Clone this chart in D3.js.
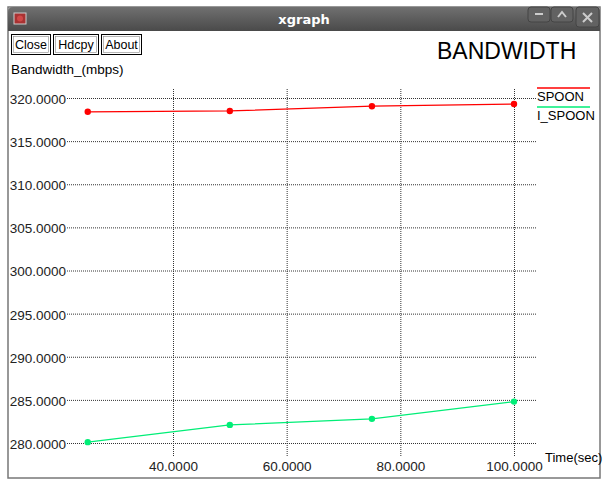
<!DOCTYPE html>
<html>
<head>
<meta charset="utf-8">
<script src="https://cdn.jsdelivr.net/npm/d3@7"></script>
<style>
  body { margin: 0; background: #ffffff; }
  svg { display: block; font-family: "Liberation Sans", Arial, sans-serif; }
</style>
</head>
<body>
<svg id="xg" width="603" height="479"></svg>
<script>
// data
const times = [25, 50, 75, 100];
const spoon = [318.4, 318.5, 319.05, 319.3];
const ispoon = [280.1, 282.1, 282.8, 284.8];
const xTicks = [40, 60, 80, 100];
const yTicks = [280, 285, 290, 295, 300, 305, 310, 315, 320];
const seriesNames = ["SPOON", "I_SPOON"];
const seriesColors = ["#ff0000", "#00ee77"];
const buttons = ["Close", "Hdcpy", "About"];

const svg = d3.select("#xg");

// window frame
svg.append("rect").attr("x", 8).attr("y", 7).attr("width", 592).attr("height", 471)
  .attr("fill", "#fff").attr("stroke", "#777").attr("stroke-width", 1.5);

const grad = svg.append("defs").append("linearGradient").attr("id", "tb")
  .attr("x1", 0).attr("y1", 0).attr("x2", 0).attr("y2", 1);
grad.append("stop").attr("offset", "0%").attr("stop-color", "#707070");
grad.append("stop").attr("offset", "100%").attr("stop-color", "#4a4a4a");

svg.append("path")
  .attr("d", "M8,31 L8,12 Q8,7 13,7 L596,7 Q600,7 600,12 L600,31 Z")
  .attr("fill", "url(#tb)");
svg.append("rect").attr("x", 14).attr("y", 13).attr("width", 12).attr("height", 11)
  .attr("fill", "#a83232").attr("stroke", "#ccc").attr("stroke-width", 1);
svg.append("circle").attr("cx", 20).attr("cy", 18.5).attr("r", 3).attr("fill", "#d04848");
svg.append("text").attr("x", 304).attr("y", 24).attr("text-anchor", "middle")
  .attr("fill", "#fff").style("font-family", "'DejaVu Sans', sans-serif")
  .style("font-weight", "bold").style("font-size", "13px").text("xgraph");

// title-bar buttons
const wbtn = [{ x: 528, w: 22 }, { x: 551, w: 22 }, { x: 576, w: 23 }];
wbtn.forEach((b, i) => {
  svg.append("rect").attr("x", b.x).attr("y", 7).attr("width", b.w).attr("height", i == 2 ? 20 : 15)
    .attr("rx", 3).attr("fill", "#626262").attr("stroke", "#444").attr("stroke-width", 1);
});
svg.append("line").attr("x1", 535).attr("x2", 543).attr("y1", 14).attr("y2", 14)
  .attr("stroke", "#ccc").attr("stroke-width", 2);
svg.append("path").attr("d", "M558,17 L562,12 L566,17").attr("fill", "none")
  .attr("stroke", "#ccc").attr("stroke-width", 2);
svg.append("path").attr("d", "M583,13 L592,22 M592,13 L583,22").attr("fill", "none")
  .attr("stroke", "#ccc").attr("stroke-width", 2);

// xgraph buttons
let bx = 11;
const bw = [39, 45, 40];
buttons.forEach((b, i) => {
  svg.append("rect").attr("x", bx + 0.5).attr("y", 34.5).attr("width", bw[i]).attr("height", 20)
    .attr("fill", "#fff").attr("stroke", "#000").attr("stroke-width", 1);
  svg.append("rect").attr("x", bx + 2.5).attr("y", 36.5).attr("width", bw[i] - 4).attr("height", 16)
    .attr("fill", "none").attr("stroke", "#888").attr("stroke-width", 0.6);
  svg.append("text").attr("x", bx + bw[i] / 2 + 0.5).attr("y", 49).attr("text-anchor", "middle")
    .style("font-size", "12.5px").text(b);
  bx += bw[i] + 3;
});

svg.append("text").attr("x", 437).attr("y", 59).style("font-size", "23px").text("BANDWIDTH");
svg.append("text").attr("x", 11).attr("y", 74).style("font-size", "13.5px").text("Bandwidth_(mbps)");
svg.append("text").attr("x", 545).attr("y", 462).style("font-size", "13px").text("Time(sec)");

// scales
const x = d3.scaleLinear().domain([40, 100]).range([173, 514]);
const y = d3.scaleLinear().domain([280, 320]).range([443, 98]);
const plotL = 67, plotR = 537, plotT = 88, plotB = 456;

// y grid + labels
const yAxis = d3.axisLeft(y).tickValues(yTicks).tickSize(-(plotR - plotL))
  .tickPadding(1).tickFormat(d3.format(".4f"));
const gy = svg.append("g").attr("transform", `translate(${plotL},0)`).call(yAxis);
gy.select(".domain").remove();
gy.selectAll("line").attr("stroke", "#333").attr("stroke-dasharray", "1,1").attr("stroke-width", 1);
gy.selectAll("text").style("font-size", "13.5px").style("font-family", "'Liberation Sans', Arial, sans-serif")
  .attr("fill", "#222").attr("dy", "0.4em");

// x grid + labels
const xAxis = d3.axisBottom(x).tickValues(xTicks).tickSize(-(plotB - plotT))
  .tickPadding(5).tickFormat(d3.format(".4f"));
const gx = svg.append("g").attr("transform", `translate(0,${plotB})`).call(xAxis);
gx.select(".domain").remove();
gx.selectAll("line").attr("stroke", "#333").attr("stroke-dasharray", "1,1").attr("stroke-width", 1);
gx.selectAll("text").style("font-size", "13.5px").style("font-family", "'Liberation Sans', Arial, sans-serif")
  .attr("fill", "#222");

// series
const line = d3.line().x(d => x(d[0])).y(d => y(d[1]));
[spoon, ispoon].forEach((vals, i) => {
  const pts = times.map((t, k) => [t, vals[k]]);
  svg.append("path").datum(pts).attr("d", line).attr("fill", "none")
    .attr("stroke", seriesColors[i]).attr("stroke-width", 1.2);
  svg.selectAll(null).data(pts).enter().append("circle")
    .attr("cx", d => x(d[0])).attr("cy", d => y(d[1])).attr("r", 3.2)
    .attr("fill", seriesColors[i]);
});

// legend
seriesNames.forEach((n, i) => {
  const ly = 88 + i * 19;
  svg.append("line").attr("x1", 537).attr("x2", 590).attr("y1", ly).attr("y2", ly)
    .attr("stroke", seriesColors[i]).attr("stroke-width", 1.5);
  svg.append("text").attr("x", 537).attr("y", ly + 13).style("font-size", "13px").text(n);
});
</script>
</body>
</html>
